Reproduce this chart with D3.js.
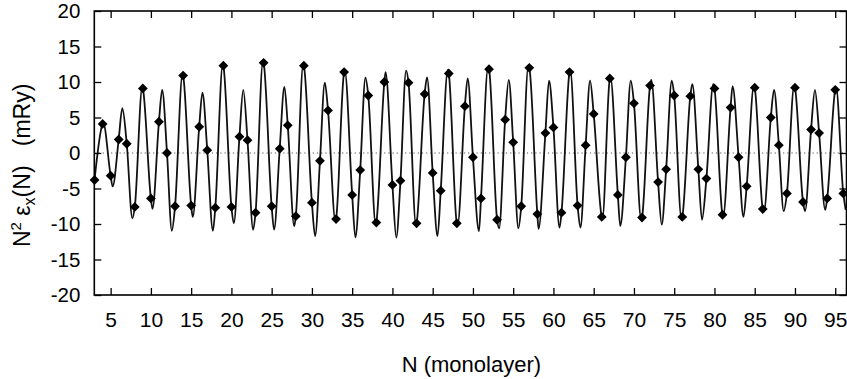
<!DOCTYPE html>
<html>
<head>
<meta charset="utf-8">
<script src="https://cdn.jsdelivr.net/npm/d3@7"></script>
<style>
  body { margin: 0; background: #fff; }
  svg { display: block; }
  text { font-family: "Liberation Sans", Arial, Helvetica, sans-serif; fill: #000; }
</style>
</head>
<body>
<svg id="chart" width="847" height="379"></svg>
<script>
// Layer count N (monolayers) of each computed point
const layerN = [3, 4, 5, 6, 7, 8, 9, 10, 11, 12,
  13, 14, 15, 16, 17, 18, 19, 20, 21, 22,
  23, 24, 25, 26, 27, 28, 29, 30, 31, 32,
  33, 34, 35, 36, 37, 38, 39, 40, 41, 42,
  43, 44, 45, 46, 47, 48, 49, 50, 51, 52,
  53, 54, 55, 56, 57, 58, 59, 60, 61, 62,
  63, 64, 65, 66, 67, 68, 69, 70, 71, 72,
  73, 74, 75, 76, 77, 78, 79, 80, 81, 82,
  83, 84, 85, 86, 87, 88, 89, 90, 91, 92,
  93, 94, 95, 96];

// N^2 * exchange energy at each integer N (mRy)
const energy = [-3.8, 4.1, -3.2, 1.9, 1.3, -7.6, 9.1, -6.4, 4.4, 0.0,
  -7.5, 10.9, -7.4, 3.7, 0.4, -7.7, 12.3, -7.6, 2.3, 1.8,
  -8.4, 12.7, -7.5, 0.6, 3.9, -8.9, 12.3, -7.0, -1.1, 6.0,
  -9.3, 11.4, -5.9, -2.4, 8.1, -9.8, 10.0, -4.5, -3.9, 9.9,
  -9.9, 8.3, -2.8, -5.3, 11.2, -9.9, 6.6, -0.6, -6.4, 11.8,
  -9.4, 4.7, 1.5, -7.5, 12.0, -8.6, 2.8, 3.6, -8.4, 11.4,
  -7.4, 1.1, 5.5, -9.0, 10.5, -5.9, -0.6, 7.0, -9.1, 9.5,
  -4.1, -2.3, 8.1, -9.0, 8.0, -2.3, -3.6, 9.1, -8.7, 6.4,
  -0.6, -4.7, 9.2, -7.9, 5.0, 1.1, -5.7, 9.2, -6.9, 3.3,
  2.8, -6.4, 8.9, -5.7];

// Maxima and minima of the continuous curve (N, mRy)
const turnN = [4.08, 5.25, 6.45, 7.7, 8.93, 10.2, 11.4, 12.6, 13.93, 15.2,
  16.4, 17.7, 18.93, 20.3, 21.47, 22.7, 23.92, 25.3, 26.58, 27.8,
  28.92, 30.4, 31.6, 32.92, 34.08, 35.4, 36.65, 37.93, 39.15, 40.48,
  41.7, 42.93, 44.3, 45.6, 46.88, 48.1, 49.35, 50.75, 51.88, 53.25,
  54.45, 55.65, 56.88, 58.15, 59.45, 60.75, 62.08, 63.35, 64.55, 66.08,
  67.08, 68.3, 69.6, 70.9, 72.15, 73.45, 74.7, 75.9, 77.25, 78.45,
  79.85, 81.08, 82.25, 83.6, 84.9, 86.15, 87.4, 88.6, 89.9, 91.25,
  92.48, 93.75, 95.1, 96.3];
const turnE = [4.25, -4.7, 6.3, -9.2, 9.3, -7.85, 8.9, -10.95, 11.1, -9.0,
  8.5, -10.95, 12.5, -9.9, 8.9, -10.8, 12.9, -10.8, 9.3, -10.3,
  12.5, -11.7, 9.9, -9.6, 11.6, -11.9, 10.6, -10.1, 11.4, -11.9,
  11.6, -10.2, 10.65, -11.7, 11.7, -10.1, 10.5, -11.0, 12.05, -10.6,
  10.3, -10.6, 12.2, -10.7, 10.2, -10.5, 11.7, -10.5, 10.2, -9.25,
  10.65, -10.3, 10.2, -9.4, 10.3, -10.1, 10.2, -9.25, 9.7, -9.4,
  9.7, -8.9, 9.4, -9.0, 9.5, -8.2, 8.9, -8.2, 9.5, -8.2,
  8.9, -8.0, 9.25, -8.0];

const xTicks = [5, 10, 15, 20, 25, 30, 35, 40, 45, 50, 55, 60, 65, 70, 75, 80, 85, 90, 95];
const yTicks = [-20, -15, -10, -5, 0, 5, 10, 15, 20];

const svg = d3.select("#chart");
const plot = { left: 94.3, right: 846.5, top: 11, bottom: 295 };

const x = d3.scaleLinear().domain([2.97, 96.4]).range([plot.left, plot.right]);
const y = d3.scaleLinear().domain([-20, 20]).range([plot.bottom, plot.top]);

svg.append("clipPath").attr("id", "plot-clip")
  .append("rect")
  .attr("x", plot.left).attr("y", plot.top)
  .attr("width", plot.right - plot.left).attr("height", plot.bottom - plot.top);

// dotted zero line
svg.append("line")
  .attr("x1", plot.left).attr("x2", plot.right)
  .attr("y1", y(0)).attr("y2", y(0))
  .attr("stroke", "#555").attr("stroke-width", 1)
  .attr("stroke-dasharray", "1.2,3");

// continuous curve through the sampled points and its turning points
const curvePts = layerN.map((n, i) => ({ n, e: energy[i] }))
  .concat(turnN.map((n, i) => ({ n, e: turnE[i] })))
  .sort((a, b) => a.n - b.n);

const line = d3.line()
  .x(d => x(d.n))
  .y(d => y(d.e))
  .curve(d3.curveMonotoneX);

svg.append("path")
  .datum(curvePts)
  .attr("clip-path", "url(#plot-clip)")
  .attr("fill", "none")
  .attr("stroke", "#111")
  .attr("stroke-width", 1.8)
  .attr("stroke-linejoin", "round")
  .attr("d", line);

// diamond markers at integer N
const diamond = d3.symbol().type(d3.symbolSquare).size(48);
svg.append("g")
  .selectAll("path")
  .data(layerN.map((n, i) => ({ n, e: energy[i] })))
  .join("path")
  .attr("transform", d => `translate(${x(d.n)},${y(d.e)}) rotate(45)`)
  .attr("d", diamond)
  .attr("fill", "#000");

// axes with inward ticks
const tickLen = 7;
const plain = d => String(d);
const axisStyle = g => {
  g.select(".domain").remove();
  g.selectAll(".tick line").attr("stroke", "#000").attr("stroke-width", 1.3);
};

svg.append("g")
  .attr("transform", `translate(0,${plot.bottom})`)
  .call(d3.axisBottom(x).tickValues(xTicks).tickFormat(plain)
    .tickSizeInner(-tickLen).tickSizeOuter(0).tickPadding(17))
  .call(axisStyle)
  .call(g => g.selectAll("text").attr("font-size", 21).attr("font-family", null));

svg.append("g")
  .attr("transform", `translate(0,${plot.top})`)
  .call(d3.axisTop(x).tickValues(xTicks).tickSizeInner(-tickLen).tickSizeOuter(0).tickFormat(""))
  .call(axisStyle);

svg.append("g")
  .attr("transform", `translate(${plot.left},0)`)
  .call(d3.axisLeft(y).tickValues(yTicks).tickFormat(plain)
    .tickSizeInner(-tickLen).tickSizeOuter(0).tickPadding(14))
  .call(axisStyle)
  .call(g => g.selectAll("text").attr("font-size", 20.5).attr("font-family", null));

svg.append("g")
  .attr("transform", `translate(${plot.right},0)`)
  .call(d3.axisRight(y).tickValues(yTicks).tickSizeInner(-tickLen).tickSizeOuter(0).tickFormat(""))
  .call(axisStyle);

// frame
svg.append("rect")
  .attr("x", plot.left).attr("y", plot.top)
  .attr("width", plot.right - plot.left).attr("height", plot.bottom - plot.top)
  .attr("fill", "none").attr("stroke", "#000").attr("stroke-width", 1.6);

// axis titles
svg.append("text")
  .attr("x", (plot.left + plot.right) / 2 + 1)
  .attr("y", 372)
  .attr("text-anchor", "middle")
  .attr("font-size", 22)
  .text("N (monolayer)");

const yTitle = svg.append("text")
  .attr("transform", "translate(30,247) rotate(-90)")
  .attr("text-anchor", "start")
  .attr("font-size", 23)
  .style("white-space", "pre");
yTitle.append("tspan").text("N");
yTitle.append("tspan").attr("font-size", 15).attr("dy", -9).text("2");
yTitle.append("tspan").attr("dy", 9).text(" \u03b5");
yTitle.append("tspan").attr("font-size", 16).attr("dy", 5).text("x");
yTitle.append("tspan").attr("dy", -5).text("(N)   (mRy)");
</script>
</body>
</html>
